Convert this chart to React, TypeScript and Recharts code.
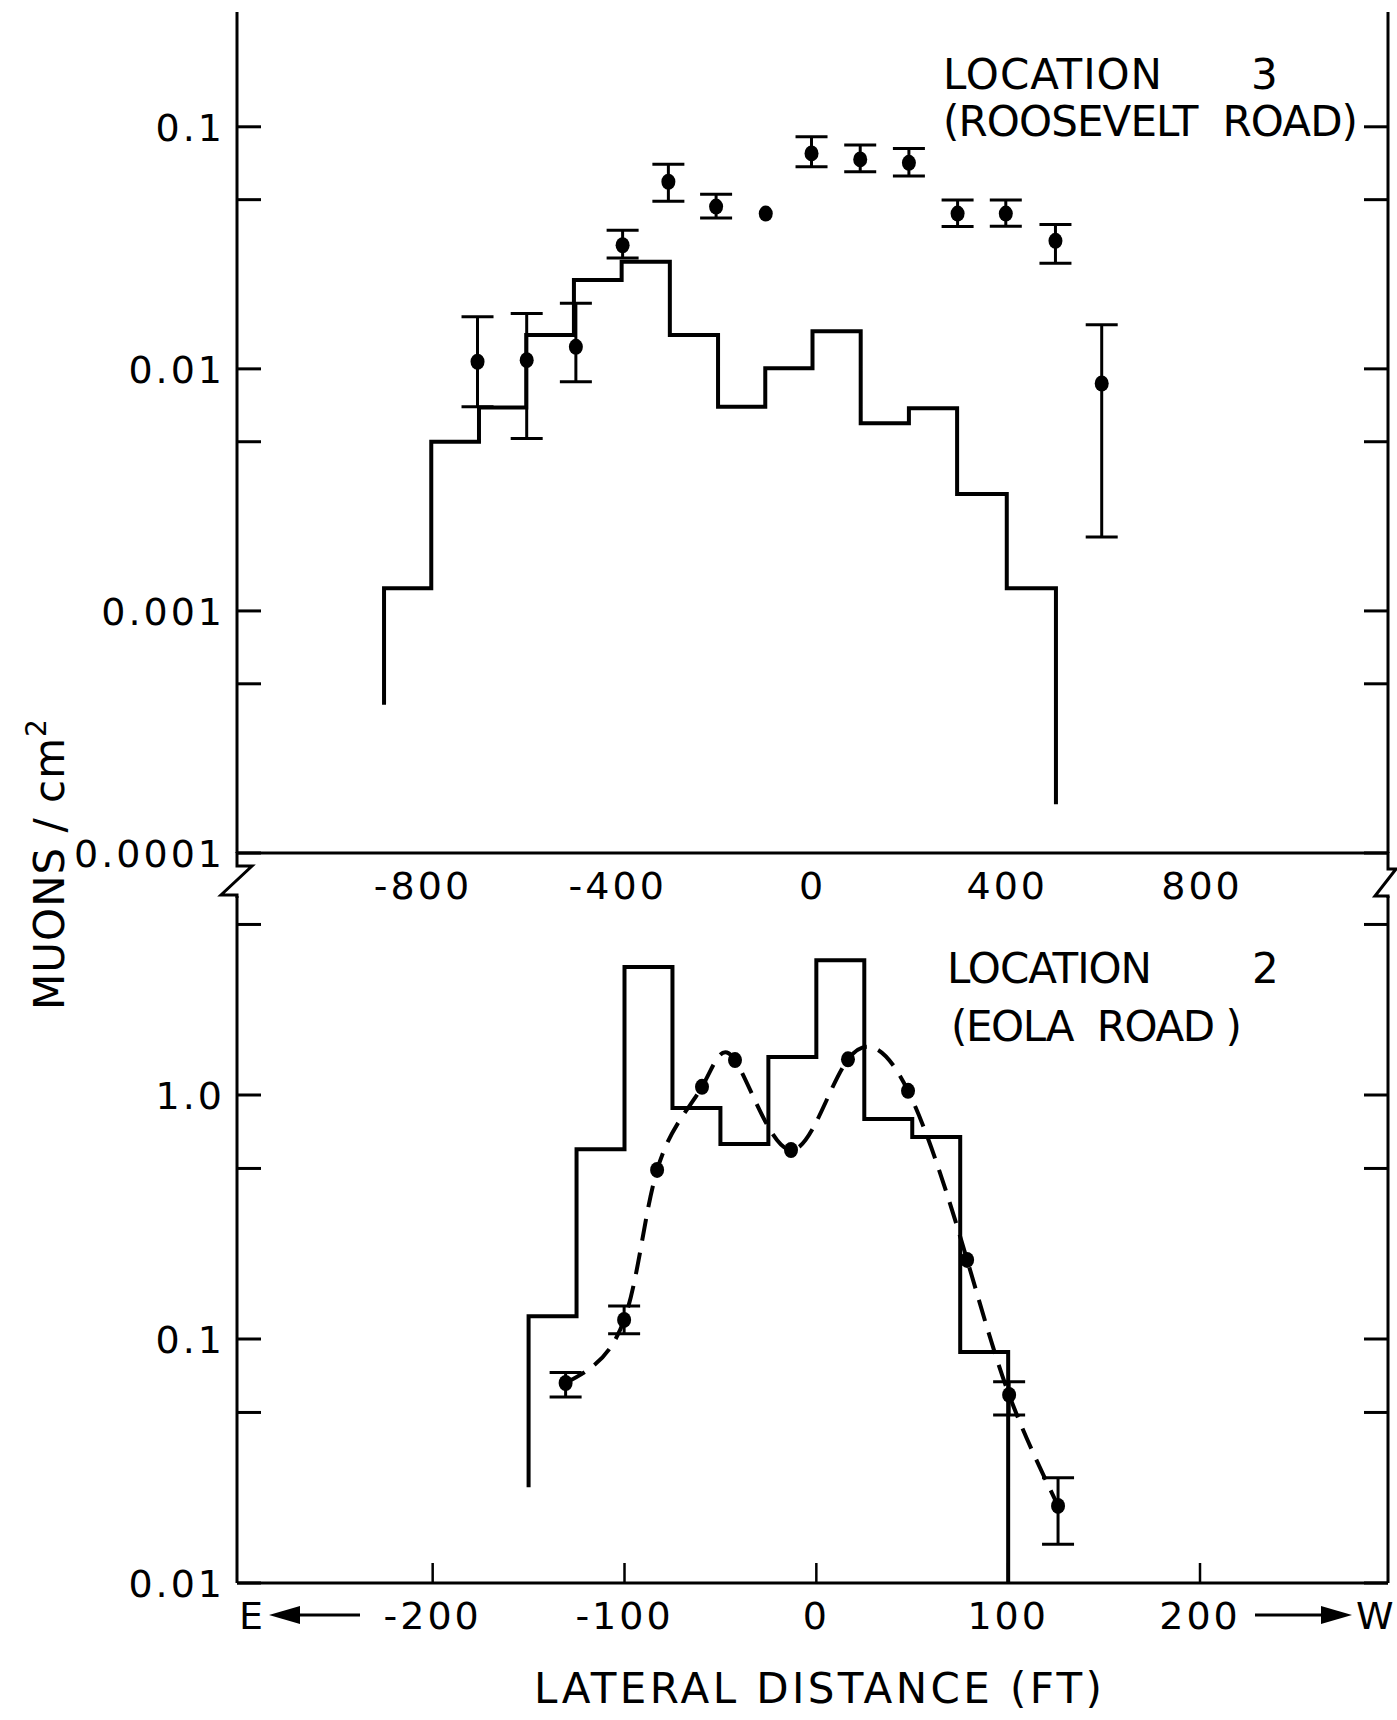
import React from "react";
import { ComposedChart, Line, Scatter, ErrorBar, XAxis, YAxis } from "recharts";

const FONT = "'DejaVu Sans', 'Liberation Sans', sans-serif";

// ---- Location 3 (Roosevelt Road), upper panel ----
const roosEdges = [-880, -783, -685, -588, -490, -392, -293, -194, -97, 0, 99, 198, 297, 399, 500];
const roosModel = [0.00124, 0.005, 0.00693, 0.0138, 0.0233, 0.0277, 0.0138, 0.00697, 0.01005, 0.0143, 0.00596, 0.00687, 0.00304, 0.00124];
const roosFeet = [0.00041, 0.000159];
const roosX = [-688, -587, -486, -390, -296, -198, -96, -2, 98, 198, 298, 397, 499, 594];
const roosY = [0.0107, 0.01086, 0.01233, 0.0324, 0.0593, 0.0468, 0.0438, 0.0776, 0.0733, 0.071, 0.0438, 0.0438, 0.0338, 0.0087];
const roosLo = [0.00697, 0.00516, 0.00885, 0.0287, 0.0493, 0.042, null, 0.0684, 0.0652, 0.0626, 0.0387, 0.0388, 0.0273, 0.00202];
const roosHi = [0.0164, 0.01694, 0.01866, 0.0374, 0.0701, 0.0526, null, 0.0909, 0.084, 0.0814, 0.0498, 0.0498, 0.0395, 0.0152];

const topXDomain = [-1182, 1182];
const topXTicks = [-800, -400, 0, 400, 800];
const topXLabels = ["-800", "-400", "0", "400", "800"];
const topYDomain = [0.0001, 0.298];
const topYTicks = [0.0001, 0.0005, 0.001, 0.005, 0.01, 0.05, 0.1];
const topYLabels = ["0.0001", "", "0.001", "", "0.01", "", "0.1"];

// ---- Location 2 (Eola Road), lower panel ----
const eolaEdges = [-150, -125, -100, -75, -50, -25, 0, 25, 50, 75, 100];
const eolaModel = [0.124, 0.6, 3.35, 0.885, 0.63, 1.43, 3.57, 0.797, 0.673, 0.0885];
const eolaFeet = [0.0247, 0.01];
const eolaX = [-130.7, -100.2, -83, -59.6, -42.4, -13.2, 16.5, 47.8, 78.6, 100.5, 126];
const eolaY = [0.066, 0.1197, 0.493, 1.08, 1.39, 0.595, 1.4, 1.04, 0.211, 0.059, 0.0207];
const eolaLo = [0.0578, 0.105, null, null, null, null, null, null, null, 0.0488, 0.0144];
const eolaHi = [0.0729, 0.1365, null, null, null, null, null, null, null, 0.0668, 0.027];

const botXDomain = [-302, 298];
const botXTicks = [-200, -100, 0, 100, 200];
const botXLabels = ["-200", "-100", "0", "100", "200"];
const botYDomain = [0.01, 6.54];
const botYTicks = [0.01, 0.05, 0.1, 0.5, 1, 5];
const botYLabels = ["0.01", "", "0.1", "", "1.0", ""];

function histogram(edges: number[], vals: number[], feet: number[]) {
  const pts = [{ x: edges[0], y: feet[0] }];
  vals.forEach((v, i) => pts.push({ x: edges[i], y: v }));
  pts.push({ x: edges[edges.length - 1], y: feet[1] });
  return pts;
}

function points(xs: number[], ys: number[], lo: (number | null)[], hi: (number | null)[], withErr: boolean) {
  const out: any[] = [];
  xs.forEach((x, i) => {
    const has = lo[i] != null && hi[i] != null;
    if (has !== withErr) return;
    out.push(has ? { x, y: ys[i], err: [ys[i] - (lo[i] as number), (hi[i] as number) - ys[i]] } : { x, y: ys[i] });
  });
  return out;
}

const roosHist = histogram(roosEdges, roosModel, roosFeet);
const roosErrPts = points(roosX, roosY, roosLo, roosHi, true);
const roosBarePts = points(roosX, roosY, roosLo, roosHi, false);

const eolaHist = histogram(eolaEdges, eolaModel, eolaFeet);
const eolaErrPts = points(eolaX, eolaY, eolaLo, eolaHi, true);
const eolaBarePts = points(eolaX, eolaY, eolaLo, eolaHi, false);
const eolaCurve = eolaX.map((x, i) => ({ x, y: eolaY[i] }));

const AXIS = { stroke: "#000", strokeWidth: 3 };

function YTick(props: any) {
  const { x, y, payload, ticks, labels, side, len } = props;
  const i = ticks.indexOf(payload.value);
  const label = i >= 0 ? labels[i] : "";
  const dir = side === "left" ? 1 : -1;
  return (
    <g>
      <line x1={x} y1={y} x2={x + dir * len} y2={y} stroke="#000" strokeWidth={3} />
      {side === "left" && label ? (
        <text x={x - 12} y={y + 14} textAnchor="end" fontFamily={FONT} fontSize={38} letterSpacing={3} fill="#000">
          {label}
        </text>
      ) : null}
    </g>
  );
}

function XTick(props: any) {
  const { x, y, payload, ticks, labels, len } = props;
  const i = ticks.indexOf(payload.value);
  return (
    <g>
      {len ? <line x1={x} y1={y} x2={x} y2={y - len} stroke="#000" strokeWidth={2.5} /> : null}
      <text x={x} y={y + 46} textAnchor="middle" fontFamily={FONT} fontSize={38} letterSpacing={3} fill="#000">
        {labels[i]}
      </text>
    </g>
  );
}

const dot = (p: any) => <ellipse cx={p.cx} cy={p.cy} rx={7} ry={8} fill="#000" />;

function Panel(props: any) {
  const { height, top, xDomain, xTicks, xLabels, xTickLen, yDomain, yTicks, yLabels, xAxisH, hist, errPts, barePts, curve, frameTop } = props;
  return (
    <ComposedChart width={1397} height={height} margin={{ top, right: 0, bottom: 0, left: 0 }}>
      {frameTop ? (
        <XAxis xAxisId="t" orientation="top" type="number" domain={xDomain} allowDataOverflow tick={false} tickLine={false} axisLine={AXIS} height={0} />
      ) : null}
      <XAxis
        dataKey="x"
        type="number"
        domain={xDomain}
        allowDataOverflow
        ticks={xTicks}
        interval={0}
        tickSize={0}
        tickMargin={0}
        tickLine={false}
        axisLine={AXIS}
        height={xAxisH}
        tick={(p: any) => <XTick {...p} ticks={xTicks} labels={xLabels} len={xTickLen} />}
      />
      <YAxis
        dataKey="y"
        type="number"
        scale="log"
        domain={yDomain}
        allowDataOverflow
        ticks={yTicks}
        interval={0}
        width={237}
        tickSize={0}
        tickMargin={0}
        tickLine={false}
        axisLine={AXIS}
        tick={(p: any) => <YTick {...p} ticks={yTicks} labels={yLabels} side="left" len={24} />}
      />
      <YAxis
        yAxisId="r"
        orientation="right"
        type="number"
        scale="log"
        domain={yDomain}
        allowDataOverflow
        ticks={yTicks}
        interval={0}
        width={9}
        tickSize={0}
        tickMargin={0}
        tickLine={false}
        axisLine={AXIS}
        tick={(p: any) => <YTick {...p} ticks={yTicks} labels={yLabels} side="right" len={24} />}
      />
      <Line data={hist} dataKey="y" type="stepAfter" stroke="#000" strokeWidth={4} dot={false} isAnimationActive={false} />
      {curve ? (
        <Line data={curve} dataKey="y" type="natural" stroke="#000" strokeWidth={4} strokeDasharray="22 12" dot={false} isAnimationActive={false} />
      ) : null}
      <Scatter data={errPts} dataKey="y" fill="#000" shape={dot} isAnimationActive={false}>
        <ErrorBar dataKey="err" direction="y" width={16} strokeWidth={3} stroke="#000" />
      </Scatter>
      <Scatter data={barePts} dataKey="y" fill="#000" shape={dot} isAnimationActive={false} />
    </ComposedChart>
  );
}

export default function App() {
  const txt = { fontFamily: FONT, fill: "#000" };
  return (
    <div style={{ position: "absolute", left: 0, top: 0, width: 1397, height: 1720, background: "#fff" }}>
      <div style={{ position: "absolute", left: 0, top: 0 }}>
        <Panel
          height={910}
          top={12}
          xDomain={topXDomain}
          xTicks={topXTicks}
          xLabels={topXLabels}
          xTickLen={0}
          yDomain={topYDomain}
          yTicks={topYTicks}
          yLabels={topYLabels}
          xAxisH={57}
          hist={roosHist}
          errPts={roosErrPts}
          barePts={roosBarePts}
          frameTop
        />
      </div>
      <div style={{ position: "absolute", left: 0, top: 860 }}>
        <Panel
          height={860}
          top={36}
          xDomain={botXDomain}
          xTicks={botXTicks}
          xLabels={botXLabels}
          xTickLen={20}
          yDomain={botYDomain}
          yTicks={botYTicks}
          yLabels={botYLabels}
          xAxisH={137}
          hist={eolaHist}
          errPts={eolaErrPts}
          barePts={eolaBarePts}
          curve={eolaCurve}
        />
      </div>
      <svg width={1397} height={1720} style={{ position: "absolute", left: 0, top: 0, pointerEvents: "none" }}>
        {/* panel titles */}
        <text {...txt} x={943} y={89} fontSize={42} textLength={219} lengthAdjust="spacing">LOCATION</text>
        <text {...txt} x={1251} y={89} fontSize={42}>3</text>
        <text {...txt} x={943} y={136} fontSize={42} textLength={415} lengthAdjust="spacing" xmlSpace="preserve">(ROOSEVELT  ROAD)</text>
        <text {...txt} x={947} y={983} fontSize={42} textLength={205} lengthAdjust="spacing">LOCATION</text>
        <text {...txt} x={1252} y={983} fontSize={42}>2</text>
        <text {...txt} x={951} y={1041} fontSize={42} textLength={291} lengthAdjust="spacing" xmlSpace="preserve">(EOLA  ROAD )</text>
        {/* axis titles */}
        <text {...txt} transform="translate(64,864) rotate(-90)" textAnchor="middle" fontSize={42} letterSpacing={1}>
          MUONS / cm<tspan dy={-18} fontSize={28}>2</tspan>
        </text>
        <text {...txt} x={818} y={1703} textAnchor="middle" fontSize={42} textLength={568} lengthAdjust="spacing">LATERAL DISTANCE (FT)</text>
        {/* direction arrows */}
        <text {...txt} x={239} y={1629} fontSize={38}>E</text>
        <line x1={290} y1={1615} x2={360} y2={1615} stroke="#000" strokeWidth={3} />
        <polygon points="269,1615 300,1606 300,1624" fill="#000" />
        <line x1={1255} y1={1615} x2={1325} y2={1615} stroke="#000" strokeWidth={3} />
        <polygon points="1352,1615 1321,1606 1321,1624" fill="#000" />
        <text {...txt} x={1356} y={1629} fontSize={38}>W</text>
        {/* axis breaks */}
        <path d="M237,852 L237,866 L252,866 L221,895 L237,895 L237,898" fill="none" stroke="#000" strokeWidth={3} />
        <path d="M1388,852 L1388,869 L1396,869 L1375,896 L1388,896 L1388,898" fill="none" stroke="#000" strokeWidth={3} />
      </svg>
    </div>
  );
}
